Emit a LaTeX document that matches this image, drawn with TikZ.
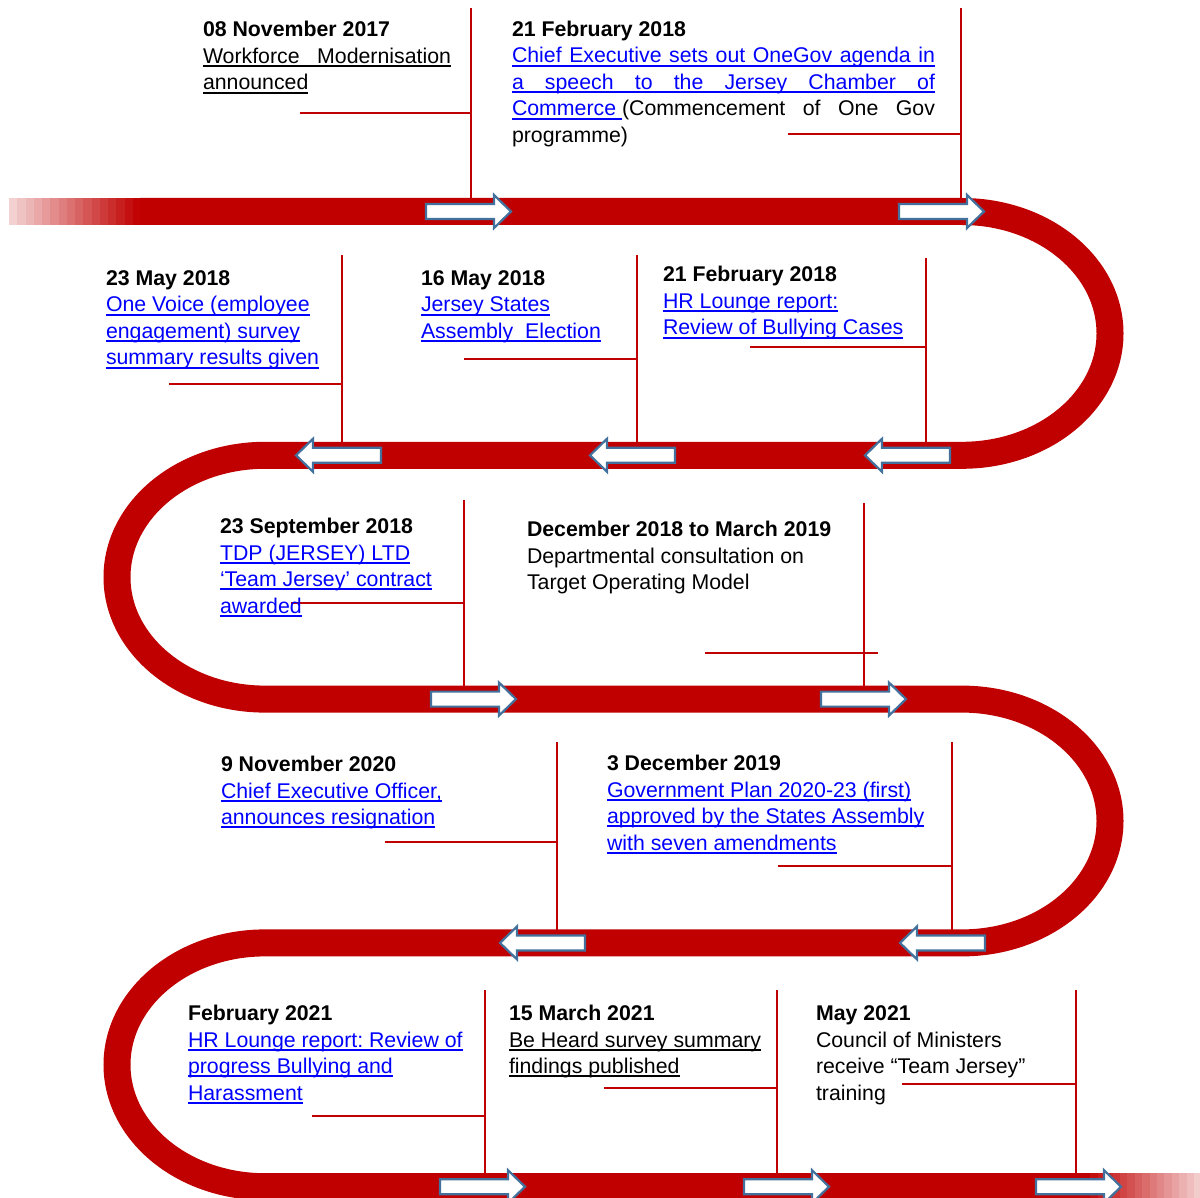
\documentclass[tikz,border=0pt]{standalone}
\usepackage{fontspec}
\setmainfont{Liberation Sans}
\frenchspacing
\definecolor{bandred}{HTML}{C00000}
\definecolor{linkblue}{HTML}{0000FF}
\definecolor{arrowblue}{HTML}{41719C}

% underline in the current colour, spanning the whole box
\newcommand\undl[1]{\leavevmode\setbox0=\hbox{#1}\rlap{\rule[-3.6pt]{\wd0}{1.7pt}}\box0}
\newcommand\evdate[1]{\hbox{\bfseries #1}}
\newcommand\evlink[1]{\hbox{\color{linkblue}\undl{#1}}}
\newcommand\evtext[1]{\hbox{#1}}

\tikzset{
  band/.style={draw=bandred, line width=27pt, line cap=butt},
  leader/.style={draw=bandred, line width=1.4pt},
  event/.style={anchor=base west, inner sep=0pt, outer sep=0pt,
    font=\fontsize{21.3}{26.5}\selectfont},
  arrowline/.style={draw=arrowblue, fill=white, line width=2.2pt, line join=miter},
  flow/.pic={\draw[arrowline] (0,-7.5) -- (68,-7.5) -- (68,-16.5) -- (85,0)
      -- (68,16.5) -- (68,7.5) -- (0,7.5) -- cycle;}
}

\begin{document}
\begin{tikzpicture}[x=1pt, y=-1pt]
\useasboundingbox (0,0) rectangle (1200,1198);

% faded ends of the road, in steps
\foreach \i in {0,...,15}{
  \pgfmathsetmacro\pct{min(100,18+\i*5.4)}
  \fill[bandred!\pct] ({9+\i*8.25},198) rectangle ({9+(\i+1)*8.25+0.6},225);
}
\foreach \i in {0,...,15}{
  \pgfmathsetmacro\pct{max(0,100-\i*5.3)}
  \fill[bandred!\pct] ({1083+\i*7.4},1173.2) rectangle ({1083+(\i+1)*7.4+0.6},1200.2);
}

% the winding road
\draw[band] (140,211.5) -- (962,211.5)
  arc[start angle=90, end angle=-90, x radius=148pt, y radius=121.9pt]
  -- (265,455.3)
  arc[start angle=90, end angle=270, x radius=148pt, y radius=121.9pt]
  -- (962,699.1)
  arc[start angle=90, end angle=-90, x radius=148pt, y radius=121.9pt]
  -- (265,942.9)
  arc[start angle=90, end angle=270, x radius=148pt, y radius=121.9pt]
  -- (1083,1186.7);

% leader lines from each event down to the road
\draw[leader] (300,113) -- (471,113);   \draw[leader] (471,8) -- (471,198);
\draw[leader] (788,134) -- (961,134);   \draw[leader] (961,8) -- (961,198);
\draw[leader] (169,384) -- (342,384);   \draw[leader] (342,255) -- (342,442);
\draw[leader] (464,359) -- (637,359);   \draw[leader] (637,255) -- (637,442);
\draw[leader] (750,347) -- (926,347);   \draw[leader] (926,258) -- (926,442);
\draw[leader] (291,603) -- (464,603);   \draw[leader] (464,500) -- (464,686);
\draw[leader] (705,653) -- (878,653);   \draw[leader] (864,503) -- (864,686);
\draw[leader] (385,842) -- (557,842);   \draw[leader] (557,742) -- (557,930);
\draw[leader] (778,866) -- (952,866);   \draw[leader] (952,742) -- (952,930);
\draw[leader] (312,1116) -- (485,1116); \draw[leader] (485,990) -- (485,1174);
\draw[leader] (604,1088) -- (777,1088); \draw[leader] (777,990) -- (777,1174);
\draw[leader] (902,1084) -- (1076,1084);\draw[leader] (1076,990) -- (1076,1174);

% direction arrows on the road
\pic at (426,211.5) {flow};
\pic at (899,211.5) {flow};
\pic[xscale=-1] at (381,455.3) {flow};
\pic[xscale=-1] at (675,455.3) {flow};
\pic[xscale=-1] at (950,455.3) {flow};
\pic at (431,699.1) {flow};
\pic at (821,699.1) {flow};
\pic[xscale=-1] at (585,942.9) {flow};
\pic[xscale=-1] at (985,942.9) {flow};
\pic at (440,1186.7) {flow};
\pic at (744,1186.7) {flow};
\pic at (1036,1186.7) {flow};

% events
\node[event] (e1) at (203,37) {\vtop{%
  \evdate{08 November 2017}
  \evtext{\undl{\makebox[248pt][s]{Workforce Modernisation}}}
  \evtext{\undl{announced}}}};

\node[event] (e2) at (512,36.5) {\vtop{%
  \evdate{21 February 2018}
  \evlink{\makebox[423pt][s]{Chief Executive sets out OneGov agenda in}}
  \evlink{\makebox[423pt][s]{a speech to the Jersey Chamber of}}
  \evtext{\makebox[423pt][s]{{\color{linkblue}\undl{Commerce\ }}(Commencement of One Gov}}
  \evtext{programme)}}};

\node[event] (e3) at (106,285.5) {\vtop{%
  \evdate{23 May 2018}
  \evlink{One Voice (employee}
  \evlink{engagement) survey}
  \evlink{summary results given}}};

\node[event] (e4) at (421,285.5) {\vtop{%
  \evdate{16 May 2018}
  \evlink{Jersey States}
  \evlink{Assembly\ \ Election}}};

\node[event] (e5) at (663,282) {\vtop{%
  \evdate{21 February 2018}
  \evlink{HR Lounge report:}
  \evlink{Review of Bullying Cases}}};

\node[event] (e6) at (220,533.5) {\vtop{%
  \evdate{23 September 2018}
  \evlink{TDP (JERSEY) LTD}
  \evlink{‘Team Jersey’ contract}
  \evlink{awarded}}};

\node[event] (e7) at (527,536.5) {\vtop{%
  \evdate{December 2018 to March 2019}
  \evtext{Departmental consultation on}
  \evtext{Target Operating Model}}};

\node[event] (e8) at (221,771.5) {\vtop{%
  \evdate{9 November 2020}
  \evlink{Chief Executive Officer,}
  \evlink{announces resignation}}};

\node[event] (e9) at (607,770.5) {\vtop{%
  \evdate{3 December 2019}
  \evlink{Government Plan 2020-23 (first)}
  \evlink{approved by the States Assembly}
  \evlink{with seven amendments}}};

\node[event] (e10) at (188,1020.5) {\vtop{%
  \evdate{February 2021}
  \evlink{HR Lounge report: Review of}
  \evlink{progress Bullying and}
  \evlink{Harassment}}};

\node[event] (e11) at (509,1020.5) {\vtop{%
  \evdate{15 March 2021}
  \evtext{\undl{Be Heard survey summary}}
  \evtext{\undl{findings published}}}};

\node[event] (e12) at (816,1020.5) {\vtop{%
  \evdate{May 2021}
  \evtext{Council of Ministers}
  \evtext{receive “Team Jersey”}
  \evtext{training}}};
\end{tikzpicture}
\end{document}
